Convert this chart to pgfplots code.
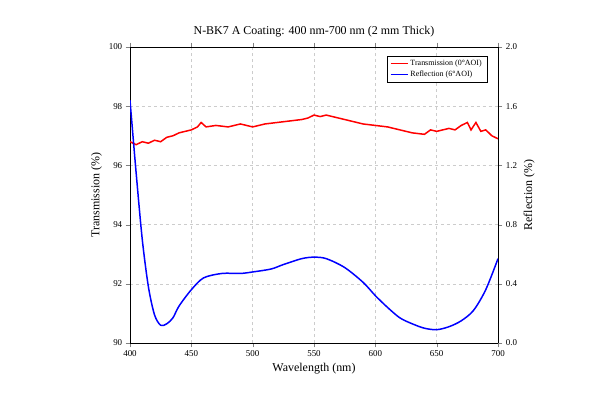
\documentclass[border=0pt]{standalone}
\usepackage{pgfplots}
\pgfplotsset{compat=1.18}
\usepackage{fontspec}
\setmainfont{Liberation Serif}
\begin{document}
\begin{tikzpicture}[x=1bp,y=1bp]
\path (-130,-57) rectangle (470,343);
\pgfplotsset{every axis/.append style={scale only axis,width=368bp,height=296bp,at={(0,0)},anchor=south west,
  tick align=outside,/pgf/number format/assume math mode=true,
  tick label style={font=\small},label style={font=\large}}}
\begin{axis}[
  xmin=400,xmax=700,ymin=90,ymax=100,
  xtick={400,450,...,700},ytick={90,92,...,100},
  axis y line*=left,
  xlabel={Wavelength (nm)},ylabel={Transmission (\%)},
  title={N-BK7 A Coating: 400 nm-700 nm (2 mm Thick)},title style={font=\large},
  grid=major,grid style={dashed,gray!40},
  legend style={at={(0.97,0.97)},anchor=north east,font=\footnotesize,draw=black},
  legend cell align=left]
\addlegendimage{red,line width=1.5pt}\addlegendentry{Transmission (0°AOI)}
\addlegendimage{blue,line width=1.5pt}\addlegendentry{Reflection (6°AOI)}
\addplot[red,line width=1.5pt] coordinates {
(400,96.8)(405,96.7)(410,96.8)(415,96.75)(420,96.85)(425,96.8)(430,96.95)(435,97.0)(440,97.1)(445,97.15)(450,97.2)(455,97.3)(458,97.45)(462,97.3)(470,97.35)(480,97.3)(490,97.4)(500,97.3)(510,97.4)(520,97.45)(530,97.5)(540,97.55)(545,97.6)(550,97.7)(555,97.65)(560,97.7)(570,97.6)(580,97.5)(590,97.4)(600,97.35)(610,97.3)(620,97.2)(630,97.1)(640,97.05)(645,97.2)(650,97.15)(660,97.25)(665,97.2)(670,97.35)(675,97.45)(678,97.2)(682,97.45)(686,97.15)(690,97.2)(695,97.0)(700,96.9)};
\end{axis}
\begin{axis}[
  xmin=400,xmax=700,ymin=0,ymax=2,
  axis y line*=right,axis x line=none,
  ytick={0,0.4,...,2.0},
  yticklabel style={/pgf/number format/.cd,fixed,fixed zerofill,precision=1},
  ylabel={Reflection (\%)}]
\addplot[blue,line width=1.5pt,smooth] coordinates {
(400,1.64)(405,1.15)(410,0.70)(415,0.38)(420,0.19)(425,0.12)(430,0.13)(435,0.17)(440,0.25)(450,0.36)(460,0.44)(475,0.47)(490,0.47)(500,0.48)(515,0.50)(525,0.53)(540,0.57)(550,0.58)(560,0.57)(575,0.51)(590,0.41)(600,0.32)(610,0.24)(620,0.17)(630,0.13)(640,0.10)(650,0.09)(660,0.11)(670,0.15)(680,0.22)(690,0.36)(700,0.57)};
\end{axis}
\end{tikzpicture}
\end{document}
